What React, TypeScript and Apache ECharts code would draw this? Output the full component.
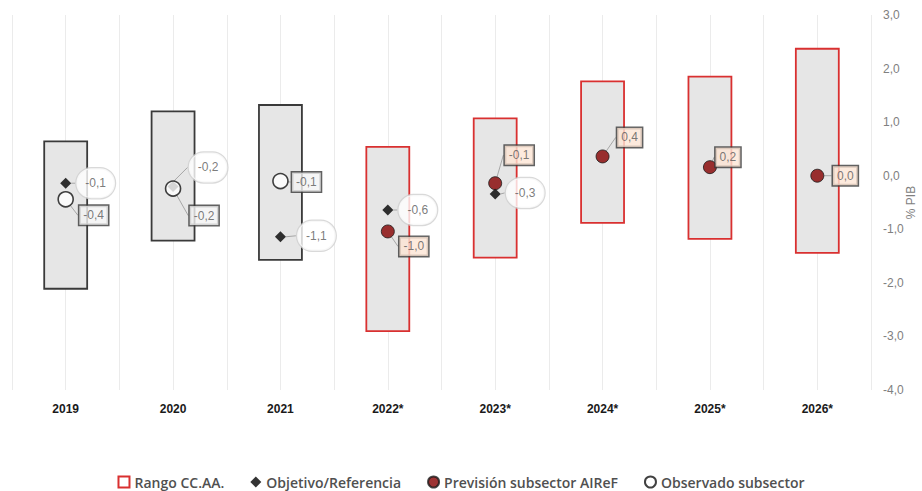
import React, { useEffect, useRef } from "react";
import * as echarts from "echarts";

const categories = ["2019", "2020", "2021", "2022*", "2023*", "2024*", "2025*", "2026*"];
const rangoMin = [-2.11, -1.21, -1.57, -2.9, -1.53, -0.88, -1.18, -1.44];
const rangoMax = [0.64, 1.2, 1.32, 0.54, 1.07, 1.76, 1.85, 2.37];
const objetivo: (number | null)[] = [-0.14, -0.2, -1.14, -0.64, -0.34, null, null, null];
const observado: (number | null)[] = [-0.44, -0.24, -0.1, null, null, null, null, null];
const prevision: (number | null)[] = [null, null, null, -1.04, -0.14, 0.36, 0.16, 0.0];
const yTicks = { min: -4, max: 3, interval: 1 };

const objOff: number[][] = [[30, 0], [35, -19], [36, -1], [30, 0], [30, -1], [0, 0], [0, 0], [0, 0]];
const obsOff: number[][] = [[28, 16], [31, 27], [26, 1], [0, 0], [0, 0], [0, 0], [0, 0], [0, 0]];
const preOff: number[][] = [[0, 0], [0, 0], [0, 0], [26, 15], [24, -28], [27, -19], [18, -10], [28, 0]];

const fmt = (v: number) => v.toFixed(1).replace(".", ",").replace("-0,0", "0,0");
const FONT = "'Liberation Sans Narrow', 'Liberation Sans', sans-serif";

export default function App() {
  const ref = useRef<HTMLDivElement>(null);
  useEffect(() => {
    if (!ref.current) return;
    const chart = echarts.init(ref.current, null, { renderer: "svg" });
    const diamond = "path://M0,-1L1,0L0,1L-1,0Z";
    const labelBase = {
      show: true,
      position: "inside",
      fontFamily: FONT,
      fontSize: 12,
      color: "#595959",
      textBorderWidth: 0,
      formatter: (p: any) => fmt(p.value[1]),
    };
    const line = { show: true, lineStyle: { color: "#a6a6a6", width: 1 } };
    const mk = (arr: (number | null)[]) =>
      arr.map((v, i) => [i, v]).filter((d) => d[1] !== null);
    const objData = mk(objetivo);
    const obsData = mk(observado);
    const preData = mk(prevision);
    const option: any = {
      animation: false,
      grid: { left: 12, right: 51, top: 15, bottom: 101, outerBoundsMode: "none" },
      legend: {
        left: "center",
        top: 470,
        itemGap: 26,
        itemWidth: 11,
        itemHeight: 11,
        textStyle: { fontFamily: "'Open Sans', sans-serif", fontSize: 14, fontWeight: 600, color: "#505050" },
        data: [
          { name: "Rango CC.AA.", icon: "rect" },
          { name: "Objetivo/Referencia", icon: diamond },
          { name: "Previsión subsector AIReF", icon: "circle" },
          { name: "Observado subsector", icon: "circle" },
        ],
      },
      xAxis: [
        {
          type: "category",
          data: categories,
          boundaryGap: true,
          axisLine: { show: false },
          axisTick: { show: false },
          splitLine: { show: false },
          axisLabel: { fontFamily: FONT, fontWeight: "bold", fontSize: 12, color: "#1a1a1a", margin: 13 },
        },
        {
          type: "value",
          position: "top",
          min: 0,
          max: 16,
          interval: 1,
          axisLine: { show: false },
          axisTick: { show: false },
          axisLabel: { show: false },
          splitLine: { show: true, lineStyle: { color: "#ebebeb", width: 1 } },
        },
      ],
      yAxis: {
        type: "value",
        position: "right",
        min: yTicks.min,
        max: yTicks.max,
        interval: yTicks.interval,
        axisLine: { show: false },
        axisTick: { show: false },
        splitLine: { show: false },
        axisLabel: {
          margin: 12,
          fontFamily: FONT,
          fontSize: 12,
          color: "#808080",
          formatter: (v: number) => fmt(v),
        },
        name: "% PIB",
        nameLocation: "middle",
        nameRotate: 90,
        nameGap: 34,
        nameMoveOverlap: false,
        nameTextStyle: { fontFamily: FONT, fontSize: 12, color: "#808080" },
      },
      series: [
        {
          name: "Rango CC.AA.",
          type: "custom",
          xAxisIndex: 0,
          itemStyle: { color: "#ffffff", borderColor: "#d93030", borderWidth: 1.5 },
          encode: { x: 0, y: [1, 2] },
          data: categories.map((c, i) => [i, rangoMin[i], rangoMax[i]]),
          renderItem: (params: any, api: any) => {
            const i = api.value(0);
            const top = api.coord([i, api.value(2)]);
            const bot = api.coord([i, api.value(1)]);
            const w = api.size([1, 0])[0] * 0.4;
            return {
              type: "rect",
              shape: { x: top[0] - w / 2, y: top[1], width: w, height: bot[1] - top[1] },
              style: {
                fill: "#e6e6e6",
                stroke: i < 3 ? "#3a3a3a" : "#d93030",
                lineWidth: 1.8,
              },
            };
          },
          z: 1,
        },
        {
          name: "Objetivo/Referencia",
          type: "scatter",
          xAxisIndex: 0,
          symbol: diamond,
          symbolSize: 11,
          itemStyle: { color: "#000000" },
          data: objData,
          label: {
            ...labelBase,
            backgroundColor: "#ffffff",
            borderColor: "#cfcfcf",
            borderWidth: 1.2,
            borderRadius: 16,
            padding: [9, 9],
          },
          labelLine: line,
          labelLayout: (p: any) => {
            const idx = objData[p.dataIndex][0] as number;
            return { dx: objOff[idx][0], dy: objOff[idx][1] };
          },
          z: 3,
        },
        {
          name: "Previsión subsector AIReF",
          type: "scatter",
          xAxisIndex: 0,
          symbol: "circle",
          symbolSize: 13,
          itemStyle: { color: "#840000", borderColor: "#1a1a1a", borderWidth: 1 },
          data: preData,
          label: {
            ...labelBase,
            backgroundColor: "#fde5d4",
            borderColor: "#3a3a3a",
            borderWidth: 1.5,
            padding: [4, 4, 3, 4],
          },
          labelLine: line,
          labelLayout: (p: any) => {
            const idx = preData[p.dataIndex][0] as number;
            return { dx: preOff[idx][0], dy: preOff[idx][1] };
          },
          z: 4,
        },
        {
          name: "Observado subsector",
          type: "scatter",
          xAxisIndex: 0,
          symbol: "circle",
          symbolSize: 15,
          itemStyle: { color: "#ffffff", borderColor: "#111111", borderWidth: 1.6 },
          data: obsData,
          label: {
            ...labelBase,
            backgroundColor: "#f2f2f2",
            borderColor: "#3a3a3a",
            borderWidth: 1.5,
            padding: [4, 4, 3, 4],
          },
          labelLine: line,
          labelLayout: (p: any) => {
            const idx = obsData[p.dataIndex][0] as number;
            return { dx: obsOff[idx][0], dy: obsOff[idx][1] };
          },
          z: 4,
        },
      ],
    };
    chart.setOption(option);
    return () => chart.dispose();
  }, []);
  return (
    <div
      ref={ref}
      style={{ position: "absolute", left: 0, top: 0, width: 922, height: 491 }}
    />
  );
}
